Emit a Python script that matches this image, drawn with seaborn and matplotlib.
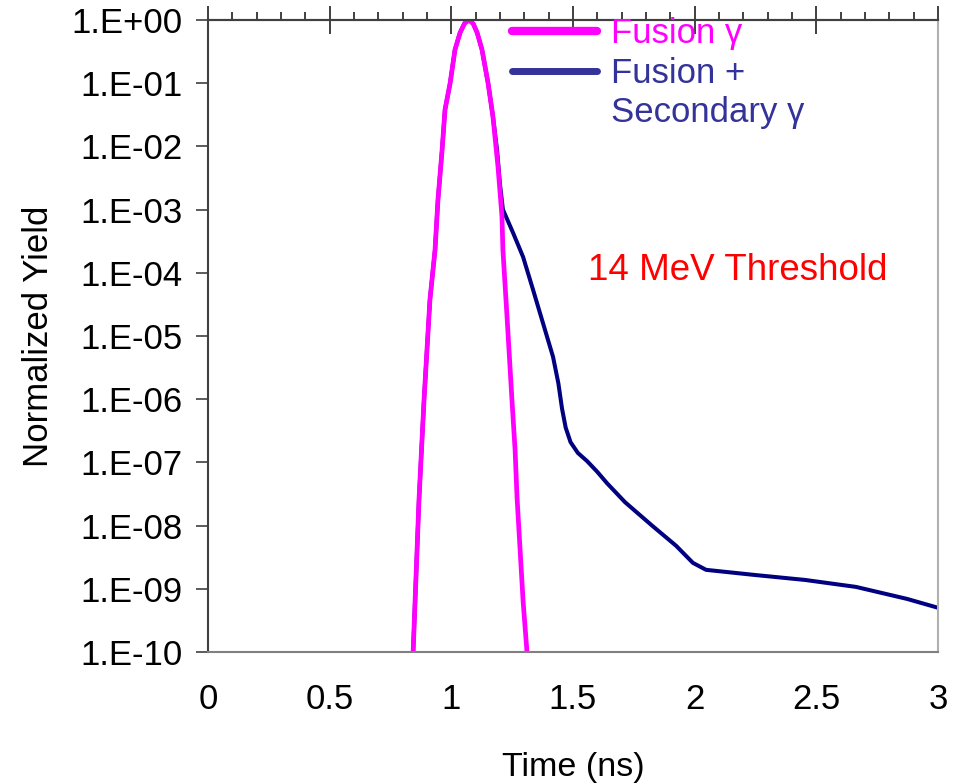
import numpy as np
import pandas as pd
import seaborn as sns
import matplotlib
matplotlib.use("Agg")
import matplotlib.pyplot as plt
from matplotlib.lines import Line2D
from matplotlib.ticker import FixedLocator, MultipleLocator, NullFormatter

# ---- data ----
fusion_t = [0.843, 0.851, 0.867, 0.888, 0.912, 0.933, 0.945, 0.962, 0.974, 0.995,
            1.015, 1.036, 1.055, 1.073, 1.090, 1.106, 1.126, 1.151, 1.171, 1.192,
            1.208, 1.212, 1.229, 1.249, 1.262, 1.270, 1.295, 1.311]
fusion_log = [-10.0, -9.2, -7.6, -6.0, -4.43, -3.64, -2.85, -2.06, -1.42, -1.0,
              -0.47, -0.2, -0.05, 0.0, -0.06, -0.2, -0.47, -1.0, -1.53, -2.33,
              -3.1, -3.64, -4.7, -6.0, -6.8, -7.55, -9.2, -10.0]

total_t = [0.843, 0.851, 0.867, 0.888, 0.912, 0.933, 0.945, 0.962, 0.974, 0.995,
           1.015, 1.036, 1.055, 1.073, 1.090, 1.106, 1.126, 1.151, 1.171, 1.188,
           1.200, 1.212, 1.254, 1.295, 1.336, 1.377, 1.418, 1.440, 1.455, 1.470,
           1.490, 1.520, 1.558, 1.600, 1.640, 1.714, 1.825, 1.924, 1.993, 2.047,
           2.244, 2.454, 2.663, 2.873, 3.0]
total_log = [-10.0, -9.2, -7.6, -6.0, -4.43, -3.64, -2.85, -2.06, -1.42, -1.0,
             -0.47, -0.2, -0.05, 0.0, -0.06, -0.2, -0.47, -1.0, -1.53, -2.06,
             -2.6, -3.0, -3.37, -3.75, -4.27, -4.8, -5.33, -5.75, -6.15, -6.45,
             -6.68, -6.85, -6.98, -7.15, -7.33, -7.63, -8.0, -8.32, -8.59, -8.7,
             -8.78, -8.86, -8.97, -9.16, -9.3]

ytick_vals = [10.0 ** -k for k in range(0, 11)]
ytick_labels = ["1.E+00", "1.E-01", "1.E-02", "1.E-03", "1.E-04", "1.E-05",
                "1.E-06", "1.E-07", "1.E-08", "1.E-09", "1.E-10"]
xtick_vals = [0, 0.5, 1, 1.5, 2, 2.5, 3]
xtick_labels = ["0", "0.5", "1", "1.5", "2", "2.5", "3"]

fusion_df = pd.DataFrame({"t": fusion_t, "y": np.power(10.0, fusion_log)})
total_df = pd.DataFrame({"t": total_t, "y": np.power(10.0, total_log)})

# ---- style ----
sns.set_theme(style="white")
plt.rcParams["font.family"] = ["Liberation Sans", "DejaVu Sans"]
FS = 25

MAGENTA = "#FF00FF"
NAVY = "#000080"
LEG_BLUE = "#333399"

fig = plt.figure(figsize=(9.63, 7.83), dpi=100)
ax = fig.add_axes([0.216, 0.1673, 0.758, 0.8072])

sns.lineplot(data=total_df, x="t", y="y", ax=ax, color=NAVY, linewidth=2.9,
             sort=False, estimator=None)
sns.lineplot(data=fusion_df, x="t", y="y", ax=ax, color=MAGENTA, linewidth=3.4,
             sort=False, estimator=None)

ax.set_yscale("log")
ax.set_xlim(0, 3)
ax.set_ylim(1e-10, 1.0)

ax.set_yticks(ytick_vals)
ax.set_yticklabels(ytick_labels, fontsize=FS, color="black")
ax.yaxis.set_minor_locator(FixedLocator([]))
ax.set_xticks(xtick_vals)
ax.set_xticklabels(xtick_labels, fontsize=FS, color="black")

ax.tick_params(axis="y", which="major", direction="out", length=8.5, width=1.2,
               color="#404040", pad=10, left=True)
ax.tick_params(axis="x", which="major", bottom=False, pad=16)

ax.set_xlabel("Time (ns)", fontsize=24.5, color="black", labelpad=26)
ax.set_ylabel("Normalized Yield", fontsize=FS, color="black", labelpad=12)

for side in ["left", "top", "right", "bottom"]:
    ax.spines[side].set_visible(True)
ax.spines["left"].set_color("#404040")
ax.spines["left"].set_linewidth(1.5)
ax.spines["bottom"].set_color("#808080")
ax.spines["bottom"].set_linewidth(1.5)
ax.spines["right"].set_color("#B0B0B0")
ax.spines["right"].set_linewidth(1.5)
ax.spines["top"].set_color("#404040")
ax.spines["top"].set_linewidth(1.5)

# top secondary axis with tick marks only
top = ax.secondary_xaxis("top")
top.xaxis.set_major_locator(MultipleLocator(0.5))
top.xaxis.set_minor_locator(MultipleLocator(0.1))
top.xaxis.set_major_formatter(NullFormatter())
top.xaxis.set_minor_formatter(NullFormatter())
top.tick_params(which="major", direction="inout", length=20, width=1.2, color="#202020")
top.tick_params(which="minor", direction="out", length=6, width=1.2, color="#202020")
top.spines["top"].set_color("#404040")
top.spines["top"].set_linewidth(1.5)

# annotation
ax.text(0.5205, 0.604, "14 MeV Threshold", transform=ax.transAxes, color="#FF0000",
        fontsize=26.5, ha="left", va="center")

# legend (three rows so the navy handle sits beside the first line of its label)
handles = [Line2D([], [], color=MAGENTA, linewidth=6),
           Line2D([], [], color=LEG_BLUE, linewidth=5),
           Line2D([], [], color="none", linewidth=0)]
leg = ax.legend(handles, ["Fusion γ", "Fusion +", "Secondary γ"],
                loc="upper left", bbox_to_anchor=(0.4164, 1.004), frameon=False,
                fontsize=FS, handlelength=2.45, handletextpad=0.4,
                labelspacing=0.18, borderaxespad=0.0, borderpad=0.0)
for txt, c in zip(leg.get_texts(), [MAGENTA, LEG_BLUE, LEG_BLUE]):
    txt.set_color(c)

fig.savefig("out.png", dpi=100, facecolor="white")
